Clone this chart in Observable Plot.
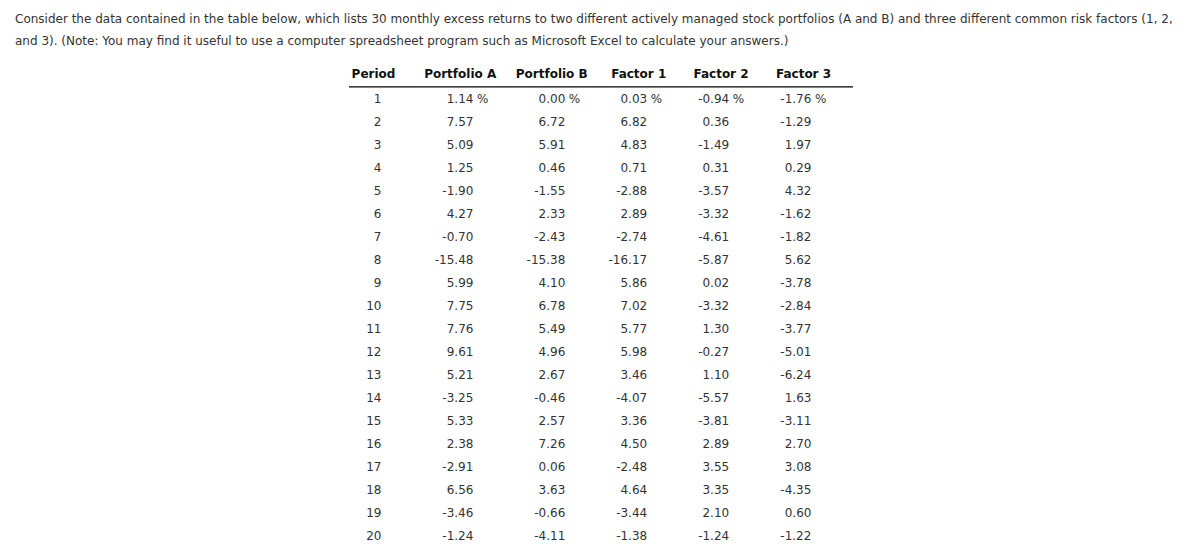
<!DOCTYPE html>
<html><head><meta charset="utf-8">
<script src="https://cdn.jsdelivr.net/npm/d3@7"></script>
<script src="https://cdn.jsdelivr.net/npm/@observablehq/plot@0.6"></script>
<style>
body{margin:0;background:#fff;font-family:"DejaVu Sans",Verdana,sans-serif;}
#intro{height:56px;box-sizing:border-box;padding:8px 0 0 15px;font-size:12px;line-height:22px;color:#333;white-space:nowrap;}
</style></head><body>
<div id="intro">Consider the data contained in the table below, which lists 30 monthly excess returns to two different actively managed stock portfolios (A and B) and three different common risk factors (1, 2,<br>and 3). (Note: You may find it useful to use a computer spreadsheet program such as Microsoft Excel to calculate your answers.)</div>
<div id="chart"></div>
<script>
const columns = ["Period", "Portfolio A", "Portfolio B", "Factor 1", "Factor 2", "Factor 3"];
const periods = [1,2,3,4,5,6,7,8,9,10,11,12,13,14,15,16,17,18,19,20];
const portfolioA = [1.14,7.57,5.09,1.25,-1.90,4.27,-0.70,-15.48,5.99,7.75,7.76,9.61,5.21,-3.25,5.33,2.38,-2.91,6.56,-3.46,-1.24];
const portfolioB = [0.00,6.72,5.91,0.46,-1.55,2.33,-2.43,-15.38,4.10,6.78,5.49,4.96,2.67,-0.46,2.57,7.26,0.06,3.63,-0.66,-4.11];
const factor1 = [0.03,6.82,4.83,0.71,-2.88,2.89,-2.74,-16.17,5.86,7.02,5.77,5.98,3.46,-4.07,3.36,4.50,-2.48,4.64,-3.44,-1.38];
const factor2 = [-0.94,0.36,-1.49,0.31,-3.57,-3.32,-4.61,-5.87,0.02,-3.32,1.30,-0.27,1.10,-5.57,-3.81,2.89,3.55,3.35,2.10,-1.24];
const factor3 = [-1.76,-1.29,1.97,0.29,4.32,-1.62,-1.82,5.62,-3.78,-2.84,-3.77,-5.01,-6.24,1.63,-3.11,2.70,3.08,-4.35,0.60,-1.22];

const series = [periods, portfolioA, portfolioB, factor1, factor2, factor3];

// layout offsets (pixels) per column, relative to the point scale positions
const headerDx = [0, 0.7, 6.2, 7.2, 3.5, 0];
const valueDx = [8, 13.9, 19.8, 15.7, 11.7, 7.9];

const marks = [];
columns.forEach((col, ci) => {
  const rows = periods.map((p, i) => ({
    period: p,
    column: col,
    label: ci === 0 ? String(series[ci][i]) : series[ci][i].toFixed(2)
  }));
  marks.push(Plot.text([{period: periods[0], column: col}], {
    x: "column", y: "period", text: () => col, dx: headerDx[ci], dy: -25,
    fontWeight: "bold", fill: "#111", textAnchor: "middle"
  }));
  marks.push(Plot.text(rows, {
    x: "column", y: "period", text: "label", dx: valueDx[ci],
    textAnchor: "end", fill: "#333"
  }));
  if (ci > 0) {
    marks.push(Plot.text([rows[0]], {
      x: "column", y: "period", text: () => "%", dx: valueDx[ci] + 3.5,
      textAnchor: "start", fill: "#333"
    }));
  }
});
marks.unshift(Plot.ruleY([periods[0]], {y: d => d, dy: -12.7, stroke: "#000", strokeWidth: 1.2}));

const chart = Plot.plot({
  width: 1202,
  height: 491,
  marginLeft: 349,
  marginRight: 349,
  marginTop: 0,
  marginBottom: 0,
  style: {fontFamily: "'DejaVu Sans', Verdana, sans-serif", fontSize: "12px", background: "#fff", color: "#333", overflow: "visible"},
  x: {type: "point", domain: columns, range: [371, 804.8], padding: 0, align: 0.5, axis: null},
  y: {type: "point", domain: periods, range: [42.5, 479.5], padding: 0, align: 0.5, axis: null},
  marks
});
document.getElementById("chart").appendChild(chart);
</script>
</body></html>
